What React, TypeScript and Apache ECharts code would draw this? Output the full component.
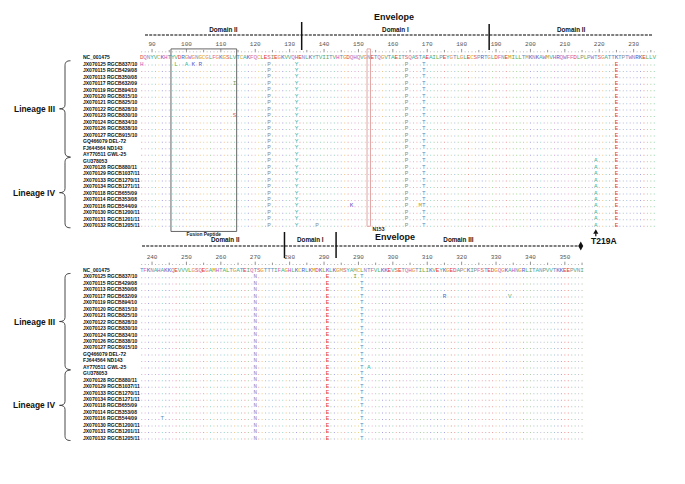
import React, { useEffect, useRef } from "react";
import * as echarts from "echarts";

// ---------------- DATA ----------------
const SEQ_NAMES = [
  "NC_001475",
  "JX070125 RGCB837/10",
  "JX070115 RGCB429/08",
  "JX070113 RGCB350/08",
  "JX070117 RGCB632/09",
  "JX070119 RGCB894/10",
  "JX070120 RGCB815/10",
  "JX070121 RGCB825/10",
  "JX070122 RGCB828/10",
  "JX070123 RGCB830/10",
  "JX070124 RGCB834/10",
  "JX070126 RGCB838/10",
  "JX070127 RGCB915/10",
  "GQ466079 DEL-72",
  "FJ644564 ND143",
  "AY770511 GWL-25",
  "GU378053",
  "JX070128 RGCB880/11",
  "JX070129 RGCB1037/11",
  "JX070133 RGCB1270/11",
  "JX070134 RGCB1271/11",
  "JX070118 RGCB655/09",
  "JX070114 RGCB353/08",
  "JX070116 RGCB544/09",
  "JX070130 RGCB1200/11",
  "JX070131 RGCB1201/11",
  "JX070132 RGCB1205/11",
];

const TOP_START = 87;
const TOP_REF =
  "DQNYVCKHTYVDRGWGNGCGLFGKGSLVTCAKFQCLESIEGKVVQHENLKYTVIITVHTGDQHQVGNETQGVTAEITSQASTAEAILPEYGTLGLECSPRTGLDFNEMILLTMKNKAWMVHRQWFFDLPLPWTSGATTKTPTWNRKELLV";
const BOTTOM_START = 237;
const BOTTOM_REF =
  "TFKNAHAKKQEVVVLGSQEGAMHTALTGATEIQTSGTTTIFAGHLKCRLKMDKLKLKGMSYAMCLNTFVLKKEVSETQHGTILIKVEYKGEDAPCKIPFSTEDGQGKAHNGRLITANPVVTKKEEPVNI";

const TOP_TICK_LABELS = ["90", "100", "110", "120", "130", "140", "150", "160", "170", "180", "190", "200", "210", "220", "230"];
const BOTTOM_TICK_LABELS = ["240", "250", "260", "270", "280", "290", "290", "300", "310", "320", "330", "340", "350"];

// [position, residue, first row, last row]
const COLUMN_SUBS: [number, string, number, number][] = [
  [124, "P", 1, 26],
  [132, "Y", 1, 26],
  [164, "P", 1, 26],
  [169, "T", 1, 26],
  [219, "A", 16, 26],
  [225, "E", 1, 26],
  [270, "N", 1, 26],
  [291, "E", 1, 26],
  [301, "T", 1, 26],
];
// [row, position, residue]
const POINT_SUBS: [number, number, string][] = [
  [1, 87, "H"],
  [1, 97, "L"],
  [1, 100, "A"],
  [1, 102, "K"],
  [1, 104, "R"],
  [4, 114, "I"],
  [9, 114, "S"],
  [23, 148, "K"],
  [23, 168, "M"],
  [26, 138, "P"],
  [1, 299, "I"],
  [4, 325, "R"],
  [4, 344, "V"],
  [15, 303, "A"],
  [23, 243, "T"],
];

const LINEAGES: [string, number, number][] = [
  ["Lineage III", 1, 15],
  ["Lineage IV", 16, 26],
];
const TOP_DOMAINS = ["Domain II", "Domain I", "Domain II"];
const TOP_DOMAIN_BREAKS = [133.5, 188];
const BOTTOM_DOMAINS = ["Domain II", "Domain I", "Domain III"];
const BOTTOM_DOMAIN_BREAKS = [278.5, 293.5];
// [label, from position, to position, top row, bottom row]
const BOXES: [string, number, number, number, number][] = [
  ["Fusion Peptide", 95.5, 114.6, -1.3, 27.0],
  ["N153", 152.5, 153.5, -1.3, 26.2],
];
const MARKED_SITE: [string, number] = ["T219A", 219];

const AA_COLORS: Record<string, string> = {
  A: "#33b5a0", V: "#3fae7a", L: "#5aae45", I: "#6a9f55", M: "#c7a020", F: "#e064a8",
  W: "#9a6ccf", Y: "#2fb0a6", C: "#dcb020", G: "#e8922c", P: "#8c8c8c", S: "#e06666",
  T: "#5a8fc0", N: "#9a88b8", Q: "#d078b0", D: "#e04a4a", E: "#e23636", K: "#5a50c8",
  R: "#4a5fd0", H: "#c058b8",
};

// ---------------- LAYOUT ----------------
const W = 685;
const H = 484;
const ROW_H = 6.45;
const COL_W = 3.44;
const LEFT = 140;
const TOP_Y0 = 57.3;
const BOT_Y0 = 270;
const NROWS = SEQ_NAMES.length;
const SANS = "'Liberation Sans', Arial, sans-serif";
const MONO = "'Liberation Mono', 'DejaVu Sans Mono', monospace";

type Cell = { p: number; r: number; ch: string; color: string };

function buildCells(start: number, ref: string): Cell[] {
  const end = start + ref.length - 1;
  const subs = new Map<string, string>();
  COLUMN_SUBS.forEach(([p, aa, r0, r1]) => {
    if (p >= start && p <= end) for (let r = r0; r <= r1; r++) subs.set(r + ":" + p, aa);
  });
  POINT_SUBS.forEach(([r, p, aa]) => {
    if (p >= start && p <= end) subs.set(r + ":" + p, aa);
  });
  const cells: Cell[] = [];
  for (let r = 0; r < NROWS; r++) {
    for (let i = 0; i < ref.length; i++) {
      const p = start + i;
      const refCh = ref[i];
      const ch = r === 0 ? refCh : subs.get(r + ":" + p) ?? ".";
      const color = AA_COLORS[ch === "." ? refCh : ch] || "#666";
      cells.push({ p, r, ch, color });
    }
  }
  return cells;
}

function braceShapePath(h: number) {
  const m = h / 2;
  return `M0,0 C-4,0 -5.5,1.5 -5.5,5 L-5.5,${m - 4} C-5.5,${m - 1.2} -7.5,${m} -11,${m} C-7.5,${m} -5.5,${m + 1.2} -5.5,${m + 4} L-5.5,${h - 5} C-5.5,${h - 1.5} -4,${h} 0,${h}`;
}

function textStyle(text: string, font: string, fill: string, align = "center", vAlign = "middle") {
  return { text, font, fill, align, verticalAlign: vAlign, textAlign: align, textVerticalAlign: vAlign };
}

export default function App() {
  const ref = useRef<HTMLDivElement>(null);

  useEffect(() => {
    if (!ref.current) return;
    const rowY = (y0: number, r: number) => y0 + r * ROW_H;

    // braces
    const braceDefs: { name: string; y0: number; y1: number; label: string }[] = [];
    [TOP_Y0, BOT_Y0].forEach((y0, bi) => {
      LINEAGES.forEach(([label, r0, r1], li) => {
        const a = rowY(y0, r0) - 3;
        const b = rowY(y0, r1) + 2.8;
        const name = "brace_" + bi + "_" + li;
        echarts.graphic.registerShape(name, echarts.graphic.extendPath(braceShapePath(b - a), {}) as any);
        braceDefs.push({ name, y0: a, y1: b, label });
      });
    });

    const chart = echarts.init(ref.current, undefined, { renderer: "svg", width: W, height: H });

    const blocks = [
      { start: TOP_START, seq: TOP_REF, y0: TOP_Y0, labels: TOP_TICK_LABELS },
      { start: BOTTOM_START, seq: BOTTOM_REF, y0: BOT_Y0, labels: BOTTOM_TICK_LABELS },
    ];

    const grids: any[] = [];
    const xAxes: any[] = [];
    const yAxes: any[] = [];
    const series: any[] = [];

    blocks.forEach((b, gi) => {
      grids.push({
        left: LEFT,
        top: b.y0 - ROW_H / 2,
        width: b.seq.length * COL_W,
        height: NROWS * ROW_H,
        containLabel: false,
        outerBoundsMode: "none",
      });
      xAxes.push({ gridIndex: gi, type: "value", min: b.start - 0.5, max: b.start + b.seq.length - 0.5, show: false });
      yAxes.push({
        gridIndex: gi,
        type: "category",
        data: SEQ_NAMES,
        inverse: true,
        axisLine: { show: false },
        axisTick: { show: false },
        splitLine: { show: false },
        axisLabel: {
          interval: 0,
          align: "left",
          margin: LEFT - 83,
          fontSize: 5,
          fontWeight: "bold",
          fontFamily: SANS,
          color: "#111",
        },
      });
      yAxes.push({ gridIndex: gi, type: "value", min: -0.5, max: NROWS - 0.5, inverse: true, show: false });
      const yIdx = gi * 2 + 1;

      const cells = buildCells(b.start, b.seq);
      series.push({
        type: "custom",
        xAxisIndex: gi,
        yAxisIndex: yIdx,
        clip: false,
        silent: true,
        data: cells.map((c) => [c.p, c.r]),
        renderItem: (params: any, api: any) => {
          const c = cells[params.dataIndex];
          const pt = api.coord([c.p, c.r]);
          if (c.ch === ".") {
            return {
              type: "rect",
              shape: { x: pt[0] - 0.5, y: pt[1] + 0.7, width: 1, height: 1 },
              style: { fill: c.color, opacity: 0.55 },
            };
          }
          return {
            type: "text",
            x: pt[0],
            y: pt[1] + 0.3,
            style: textStyle(c.ch, "6px " + MONO, c.color),
          };
        },
      });

      // ruler
      const positions: number[] = [];
      for (let i = 0; i < b.seq.length; i++) positions.push(b.start + i);
      const firstLabelPos = Math.ceil(b.start / 10) * 10;
      series.push({
        type: "custom",
        xAxisIndex: gi,
        yAxisIndex: yIdx,
        clip: false,
        silent: true,
        data: positions.map((p) => [p, -1]),
        renderItem: (params: any, api: any) => {
          const p = positions[params.dataIndex];
          const pt = api.coord([p, -1]);
          const children: any[] = [];
          if (p % 5 === 0) {
            const h = p % 10 === 0 ? 3.4 : 2.4;
            children.push({
              type: "line",
              shape: { x1: pt[0], y1: pt[1] + 1.5 - h, x2: pt[0], y2: pt[1] + 1.5 },
              style: { stroke: "#666", lineWidth: 0.7 },
            });
          } else {
            children.push({ type: "rect", shape: { x: pt[0] - 0.4, y: pt[1] + 0.6, width: 0.8, height: 0.8 }, style: { fill: "#888" } });
          }
          if (p % 10 === 0) {
            const lab = b.labels[(p - firstLabelPos) / 10];
            if (lab) {
              const lp = api.coord([p, -2]);
              children.push({ type: "text", x: lp[0], y: lp[1], style: textStyle(lab, "6px " + MONO, "#555") });
            }
          }
          return { type: "group", children };
        },
      });

      // annotation boxes & marker (top block only)
      if (gi === 0) {
        series.push({
          type: "custom",
          xAxisIndex: gi,
          yAxisIndex: yIdx,
          clip: false,
          silent: true,
          data: BOXES.map((bx) => [bx[1], bx[3], bx[2], bx[4]]),
          renderItem: (params: any, api: any) => {
            const bx = BOXES[params.dataIndex];
            const tl = api.coord([bx[1], bx[3]]);
            const br = api.coord([bx[2], bx[4]]);
            const isFusion = params.dataIndex === 0;
            const children: any[] = [
              {
                type: "rect",
                shape: { x: tl[0], y: tl[1], width: br[0] - tl[0], height: br[1] - tl[1] },
                style: { fill: "none", stroke: isFusion ? "#555" : "#d99090", lineWidth: isFusion ? 0.9 : 0.8 },
              },
            ];
            if (isFusion) {
              children.push({
                type: "text",
                x: (tl[0] + br[0]) / 2,
                y: br[1] + 3.5,
                style: textStyle(bx[0], "bold 4.8px " + SANS, "#222"),
              });
            } else {
              children.push({
                type: "text",
                x: br[0] + 2,
                y: br[1] + 2.5,
                style: textStyle(bx[0], "bold 5px " + SANS, "#222", "left"),
              });
            }
            return { type: "group", children };
          },
        });
        series.push({
          type: "custom",
          xAxisIndex: gi,
          yAxisIndex: yIdx,
          clip: false,
          silent: true,
          data: [[MARKED_SITE[1], NROWS - 0.5]],
          renderItem: (params: any, api: any) => {
            const pt = api.coord([MARKED_SITE[1], NROWS - 0.5]);
            const x = pt[0];
            const y = pt[1] + 1;
            return {
              type: "group",
              children: [
                { type: "polygon", shape: { points: [[x, y], [x - 2.6, y + 4.5], [x + 2.6, y + 4.5]] }, style: { fill: "#111" } },
                { type: "line", shape: { x1: x, y1: y + 4, x2: x, y2: y + 7 }, style: { stroke: "#111", lineWidth: 1.2 } },
                { type: "text", x: x + 8, y: y + 11.5, style: textStyle(MARKED_SITE[0], "bold 8.5px " + SANS, "#111") },
              ],
            };
          },
        });
      }
    });

    // ---------- header / decoration graphics ----------
    const xOf = (start: number, p: number) => LEFT + (p - start + 0.5) * COL_W;
    const graphic: any[] = [];

    // top header
    const topEndX = LEFT + TOP_REF.length * COL_W;
    graphic.push({ type: "text", x: 394, y: 17, style: textStyle("Envelope", "bold 9px " + SANS, "#111") });
    const topSegs = [145, xOf(TOP_START, TOP_DOMAIN_BREAKS[0]), xOf(TOP_START, TOP_DOMAIN_BREAKS[1]), topEndX - 3];
    TOP_DOMAINS.forEach((d, i) => {
      graphic.push({ type: "text", x: (topSegs[i] + topSegs[i + 1]) / 2, y: 29, style: textStyle(d, "bold 6.3px " + SANS, "#111") });
    });
    graphic.push({
      type: "line",
      shape: { x1: 145, y1: 35, x2: topEndX - 3, y2: 35 },
      style: { stroke: "#555", lineWidth: 1.4, lineDash: [3, 1.2] },
    });
    TOP_DOMAIN_BREAKS.forEach((p, i) => {
      const x = xOf(TOP_START, p);
      graphic.push({ type: "line", shape: { x1: x, y1: i === 0 ? 22 : 24, x2: x, y2: 50 }, style: { stroke: "#111", lineWidth: 1.5 } });
    });

    // bottom header
    const botEndX = LEFT + BOTTOM_REF.length * COL_W;
    const botSegs = [142, xOf(BOTTOM_START, BOTTOM_DOMAIN_BREAKS[0]), xOf(BOTTOM_START, BOTTOM_DOMAIN_BREAKS[1]), botEndX - 3];
    graphic.push({ type: "text", x: 395, y: 237, style: textStyle("Envelope", "bold 9px " + SANS, "#111") });
    BOTTOM_DOMAINS.forEach((d, i) => {
      let cx = (botSegs[i] + botSegs[i + 1]) / 2;
      if (i === 0) cx += 12;
      graphic.push({ type: "text", x: cx, y: 239.5, style: textStyle(d, "bold 6.3px " + SANS, "#111") });
    });
    graphic.push({
      type: "line",
      shape: { x1: 142, y1: 246, x2: botEndX - 3, y2: 246 },
      style: { stroke: "#555", lineWidth: 1.4, lineDash: [3, 1.2] },
    });
    graphic.push({
      type: "polygon",
      shape: { points: [[botEndX - 3, 241.5], [botEndX - 0.5, 246], [botEndX - 3, 250.5], [botEndX - 5.5, 246]] },
      style: { fill: "#111" },
    });
    BOTTOM_DOMAIN_BREAKS.forEach((p) => {
      const x = xOf(BOTTOM_START, p);
      graphic.push({ type: "line", shape: { x1: x, y1: 232, x2: x, y2: 258 }, style: { stroke: "#111", lineWidth: 1.5 } });
    });

    // braces + lineage labels
    braceDefs.forEach((bd) => {
      graphic.push({
        type: bd.name,
        x: 70.5,
        y: bd.y0,
        style: { stroke: "#333", fill: "none", lineWidth: 0.9 },
      });
      graphic.push({
        type: "text",
        x: 55,
        y: (bd.y0 + bd.y1) / 2,
        style: textStyle(bd.label, "bold 8.4px " + SANS, "#111", "right"),
      });
    });

    chart.setOption({
      animation: false,
      backgroundColor: "#ffffff",
      grid: grids,
      xAxis: xAxes,
      yAxis: yAxes,
      series,
      graphic,
    });

    return () => chart.dispose();
  }, []);

  return (
    <div
      ref={ref}
      style={{ position: "fixed", left: 0, top: 0, width: W, height: H, background: "#fff" }}
    />
  );
}
